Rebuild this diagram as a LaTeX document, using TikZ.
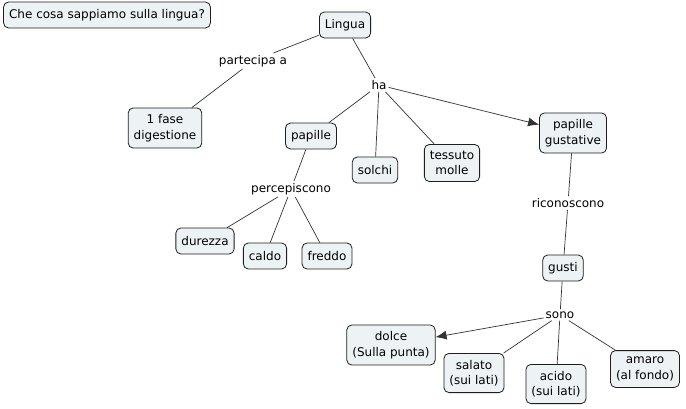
\documentclass[tikz,border=0pt]{standalone}
\usepackage{fontspec}
\setmainfont{DejaVu Sans}
\usetikzlibrary{arrows.meta,positioning}
\definecolor{boxfill}{RGB}{237,242,245}
\definecolor{boxline}{RGB}{30,30,30}

\begin{document}
\begin{tikzpicture}[
    x=1pt, y=-1pt,
    every node/.style={font=\fontsize{12}{15.5}\selectfont},
    concept/.style={draw=boxline, fill=boxfill, line width=0.8pt, rounded corners=5pt, align=center, inner xsep=5.5pt, inner ysep=6.5pt, minimum height=26pt},
    link/.style={inner sep=2pt},
    line/.style={draw=black!80, line width=0.7pt},
    arrowline/.style={line, -{Latex[length=11pt,width=9pt]}}
  ]
    \fill[white] (0,0) rectangle (686,408);

    % concepts
    \node[concept] (title) at (107,15) {Che cosa sappiamo sulla lingua?};
    \node[concept] (lingua) at (345,25) {Lingua};
    \node[concept] (fase) at (165,128) {1 fase\\digestione};
    \node[concept] (papille) at (311,136) {papille};
    \node[concept] (solchi) at (375,170) {solchi};
    \node[concept] (tessuto) at (452,163) {tessuto\\molle};
    \node[concept] (gustative) at (573,133) {papille\\gustative};
    \node[concept] (durezza) at (205,241) {durezza};
    \node[concept] (caldo) at (265,256) {caldo};
    \node[concept] (freddo) at (327,256) {freddo};
    \node[concept] (gusti) at (563,268) {gusti};
    \node[concept] (dolce) at (391,345) {dolce\\(Sulla punta)};
    \node[concept] (salato) at (474,373) {salato\\(sui lati)};
    \node[concept] (acido) at (556,384) {acido\\(sui lati)};
    \node[concept] (amaro) at (645,369) {amaro\\(al fondo)};

    % linking phrases
    \node[link] (partecipa) at (253,61) {partecipa a};
    \node[link] (ha) at (379,85) {ha};
    \node[link] (percep) at (291,189) {percepiscono};
    \node[link] (ricon) at (568,203) {riconoscono};
    \node[link] (sono) at (560,315) {sono};

    \draw[line] (lingua) -- (partecipa);
    \draw[line] (partecipa) -- (fase);
    \draw[line] (lingua) -- (ha);
    \draw[line] (ha) -- (papille);
    \draw[line] (ha) -- (solchi);
    \draw[line] (ha) -- (tessuto);
    \draw[arrowline] (ha) -- (gustative);
    \draw[line] (papille) -- (percep);
    \draw[line] (percep) -- (durezza);
    \draw[line] (percep) -- (caldo);
    \draw[line] (percep) -- (freddo);
    \draw[line] (gustative) -- (ricon);
    \draw[line] (ricon) -- (gusti);
    \draw[line] (gusti) -- (sono);
    \draw[arrowline] (sono) -- (dolce);
    \draw[line] (sono) -- (salato);
    \draw[line] (sono) -- (acido);
    \draw[line] (sono) -- (amaro);
\end{tikzpicture}
\end{document}
